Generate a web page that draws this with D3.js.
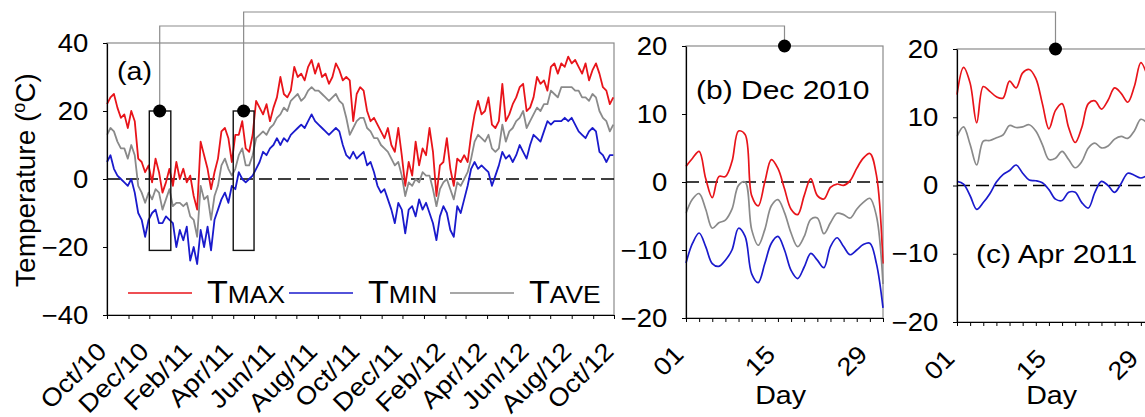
<!DOCTYPE html>
<html>
<head>
<meta charset="utf-8">
<script src="https://cdn.jsdelivr.net/npm/d3@7"></script>
<style>
body { margin: 0; background: #fff; }
svg { font-family: Arial, "Liberation Sans", sans-serif; }
</style>
</head>
<body>
<div id="chart"></div>
<script>
// daily temperature record, read every 5 days from Oct 1 2010
var startDay = new Date(2010, 9, 1);
var sampleDays = d3.range(0, 731, 5);

var tmax = [22, 24, 25, 21, 18, 19, 15, 20, 17, 6, 5, 2, 4, -1, 6, 2, -4, -1, 3, -2,
    5, 0, 3, -1, 1, -5, -9, 11, 7, 3, -3, 2, 6, 14, 15, 12, 5, 13, 13, 17,
    9, 8, 13, 23, 21, 19, 22, 17, 21, 24, 30, 25, 24, 26, 33, 30, 31, 29, 33, 35,
    31, 34, 30, 31, 28, 30, 34, 32, 29, 30, 29, 17, 25, 27, 26, 20, 17, 18, 16, 14,
    12, 15, 10, 8, 15, 7, -2, 5, 1, 11, 4, 9, 7, 15, 8, -5, 4, 5, 12, 3,
    -2, 6, 5, 7, 5, 13, 19, 23, 19, 20, 24, 16, 15, 17, 28, 17, 19, 22, 24, 27,
    28, 20, 21, 24, 30, 28, 29, 26, 33, 34, 31, 34, 33, 36, 34, 35, 33, 31, 34, 29,
    32, 34, 31, 27, 26, 22, 24];
var tmin = [5, 7, 3, 1, 0, -1, -2, 0, -4, -10, -12, -17, -12, -10, -9, -13, -13, -11, -12, -13,
    -20, -15, -18, -14, -24, -20, -25, -15, -20, -14, -21, -12, -9, -6, -4, -7, -2, -3, 2, 0,
    -1, 0, 1, 3, 5, 8, 7, 9, 10, 12, 10, 12, 11, 13, 14, 15, 16, 15, 17, 19,
    17, 16, 15, 14, 13, 14, 15, 14, 10, 7, 6, 8, 6, 7, 8, 4, 5, 2, -2, -4,
    -3, -6, -9, -13, -7, -9, -16, -9, -8, -11, -6, -9, -7, -10, -13, -18, -11, -8, -10, -15,
    -17, -8, -10, -6, -2, 3, 5, 3, 4, 3, 2, -2, 1, 4, 8, 6, 7, 5, 7, 10,
    8, 6, 10, 13, 12, 11, 14, 17, 16, 17, 17, 17, 18, 17, 18, 16, 14, 13, 12, 14,
    15, 14, 8, 7, 5, 7, 7];
var tave = [13, 15, 14, 11, 9, 9, 6, 10, 7, -2, -4, -7, -4, -6, -3, -4, -9, -6, -3, -8,
    -7, -7, -8, -7, -11, -12, -17, -2, -6, -5, -12, -5, -2, 4, 6, 3, 1, 3, 7, 9,
    4, 4, 7, 12, 13, 14, 13, 15, 16, 18, 19, 21, 20, 23, 24, 25, 23, 24, 26, 27,
    26, 26, 25, 24, 23, 24, 25, 23, 22, 18, 13, 15, 17, 18, 18, 15, 14, 12, 12, 10,
    9, 8, 6, 4, 5, 1, -5, -1, -2, 0, -1, 2, 1, 1, -3, -8, -3, -1, 0, -3,
    -6, -1, -2, 0, 2, 6, 11, 13, 12, 11, 13, 9, 8, 9, 16, 11, 14, 15, 17, 18,
    20, 15, 17, 19, 21, 20, 22, 22, 26, 25, 24, 27, 27, 27, 27, 26, 26, 24, 24, 23,
    25, 24, 20, 18, 17, 14, 16];

// (b) December 2010, daily
var decDays = d3.range(1, 32);
var decTmax = [2.3, 3.5, 4.5, 0.5, -2.3, 0.8, 0.8, 3, 7.5, 7, -2, -3.5, 0, 3.3, 2, -1,
    -4, -4.8, -2, 0.5, -2, -2.5, -0.8, -0.3, -0.5, 0.2, 2, 3.5, 4.2, 1, -12];
var decTave = [-4.6, -2.5, -1.7, -4, -6.8, -6, -5.6, -4, -0.5, 0, -7, -9.3, -7, -3.5, -2.6, -4.5,
    -7.5, -9.5, -8, -5.5, -5.3, -7.6, -6, -4.6, -4.8, -5.3, -4, -3, -2.4, -5, -15];
var decTmin = [-11.9, -9, -7.5, -9.5, -12, -12.4, -11.5, -10, -6.8, -8, -13.5, -14.8, -12, -9, -8, -10,
    -13, -14.2, -12.5, -10.5, -11.5, -12.6, -9.5, -8.2, -9.5, -10.7, -10, -9.2, -9, -12, -18.5];

// (c) April 2011, daily
var aprDays = d3.range(1, 31);
var aprTmax = [13.3, 17.3, 15, 9.2, 14.5, 13.8, 13, 12.8, 15.3, 14.3, 16.5, 17, 15.7, 12, 8.3,
    11, 12, 8.5, 6.3, 8.5, 12, 12.4, 11.2, 12.5, 14.3, 13.5, 12.2, 14.5, 18, 16];
var aprTave = [7.2, 8.6, 6, 3, 6.5, 6.6, 7, 7.4, 8.8, 8.5, 8.6, 8.9, 8, 6, 3.8,
    4, 5, 3.8, 2.6, 3.5, 5.5, 6.2, 5.5, 5.8, 6.8, 7.2, 6.9, 8, 9.7, 9.1];
var aprTmin = [0.6, 0.2, -1.5, -3.5, -2.5, -1.2, 0.5, 1.6, 2.2, 3, 1.8, 0.8, 0.7, 0.4, -0.6,
    -2, -2.2, -1, -1, -2.5, -3.3, -1, 0.6, 0, -1, 0.3, 1.8, 1.5, 1.1, 1.5];

var dayTicks = [1, 15, 29];
var legendNames = [["T", "MAX"], ["T", "MIN"], ["T", "AVE"]];
var colours = ["#e8141a", "#1a1acc", "#8a8a8a"];

var W = 1145, H = 417;
var WIDE = 1.1;   // the figure's lettering is a little wider than Arial
var svg = d3.select("#chart").append("svg")
    .attr("width", W)
    .attr("height", H);

var dateOf = function(d) { return d3.timeDay.offset(startDay, d); };

function label(x, y, size, txt, extra, wide) {
    return svg.append("text")
        .attr("transform", "translate(" + x + "," + y + ")" + (extra || "") +
            " scale(" + (wide || WIDE) + ",1)")
        .style("font-size", size + "px")
        .text(txt);
}

// ---------- scales ----------
var xa = d3.scaleTime()
    .domain([startDay, new Date(2012, 9, 1)])
    .range([107, 614]);
var ya = d3.scaleLinear().domain([-40, 40]).range([315, 43]);

var xb = d3.scaleLinear().domain([1, 31]).range([686, 883]);
var yb = d3.scaleLinear().domain([-20, 20]).range([318, 46]);

var xc = d3.scaleLinear().domain([1, 31]).range([957, 1154]);
var yc = d3.scaleLinear().domain([-20, 20]).range([322, 49]);

// ---------- connectors ----------
var conn = svg.append("g")
    .attr("fill", "none")
    .attr("stroke", "#8c8c8c")
    .attr("stroke-width", 1.2);
var dec16 = new Date(2010, 11, 16), apr16 = new Date(2011, 3, 16);
conn.append("path").attr("d", d3.line()([
    [xa(dec16), ya(20)], [xa(dec16), 26], [xb(16), 26], [xb(16), yb(20)]]));
conn.append("path").attr("d", d3.line()([
    [xa(apr16), ya(20)], [xa(apr16), 12], [xc(16), 12], [xc(16), yc(20)]]));

// ---------- panel helpers ----------
function framePanel(x, y) {
    var r = x.range(), t = y.range();
    svg.append("rect")
        .attr("x", r[0]).attr("y", t[1])
        .attr("width", r[1] - r[0]).attr("height", t[0] - t[1])
        .attr("fill", "none")
        .attr("stroke", "#8a8a8a")
        .attr("stroke-width", 1.2);
    svg.append("line")
        .attr("x1", r[0]).attr("x2", r[1])
        .attr("y1", y(0)).attr("y2", y(0))
        .attr("stroke", "#000")
        .attr("stroke-width", 1.3)
        .attr("stroke-dasharray", "13,6");
}

function styleAxis(g, size) {
    g.selectAll("text")
        .attr("fill", "#000")
        .attr("transform", "scale(" + WIDE + ",1)")
        .style("font-size", size + "px")
        .style("font-family", "Arial, 'Liberation Sans', sans-serif");
    g.selectAll("line").attr("stroke", "#000");
    g.select(".domain").attr("stroke", "#000").attr("stroke-width", 1.2);
}

function drawSeries(x, y, xs, list, curve, width) {
    list.forEach(function(vals, i) {
        var pts = xs.map(function(v, j) { return [x(v), y(vals[j])]; });
        svg.append("path")
            .attr("d", d3.line().curve(curve)(pts))
            .attr("fill", "none")
            .attr("stroke", colours[i])
            .attr("stroke-width", width)
            .attr("stroke-linejoin", "round");
    });
}

// ---------- panel (a) ----------
framePanel(xa, ya);
var dates = sampleDays.map(dateOf);
drawSeries(xa, ya, dates, [tmax, tmin, tave], d3.curveLinear, 1.8);

var months = d3.timeMonth.range(startDay, new Date(2012, 9, 2));
var axA = svg.append("g")
    .attr("transform", "translate(0," + ya.range()[0] + ")")
    .call(d3.axisBottom(xa).tickValues(months).tickSize(4).tickSizeOuter(0).tickFormat(""));
styleAxis(axA, 24);
months.filter(function(d, i) { return i % 2 === 0; }).forEach(function(d) {
    label(xa(d) + 1, ya.range()[0] + 38, 25, d3.timeFormat("%b/%y")(d), " rotate(-45)")
        .attr("text-anchor", "end");
});

var ayA = svg.append("g")
    .attr("transform", "translate(" + xa.range()[0] + ",0)")
    .call(d3.axisLeft(ya).tickValues([-40, -20, 0, 20, 40]).tickSize(4).tickPadding(13).tickSizeOuter(0));
styleAxis(ayA, 25);

var yt = svg.append("text")
    .attr("transform", "translate(35,180) rotate(-90)")
    .attr("text-anchor", "middle")
    .style("font-size", "28px");
yt.append("tspan").text("Temperature (");
yt.append("tspan").attr("dy", -10).style("font-size", "18px").text("o");
yt.append("tspan").attr("dy", 10).text("C)");

label(117, 80, 26, "(a)");

// boxes and markers for the zoomed months
var boxes = [
    [new Date(2010, 11, 1), new Date(2011, 0, 1), dec16],
    [new Date(2011, 3, 1), new Date(2011, 4, 1), apr16]
];
boxes.forEach(function(b) {
    svg.append("rect")
        .attr("x", xa(b[0])).attr("y", ya(20))
        .attr("width", xa(b[1]) - xa(b[0]))
        .attr("height", ya(-21) - ya(20))
        .attr("fill", "none")
        .attr("stroke", "#111")
        .attr("stroke-width", 1.4);
    svg.append("circle")
        .attr("cx", xa(b[2])).attr("cy", ya(20)).attr("r", 6.5)
        .attr("fill", "#000");
});

// legend
legendNames.forEach(function(n, i) {
    var lx = 128 + i * 161;
    svg.append("line")
        .attr("x1", lx).attr("x2", lx + 64)
        .attr("y1", 293).attr("y2", 293)
        .attr("stroke", colours[i]).attr("stroke-width", 1.5);
    var t = label(lx + 79, 303, 31, null);
    t.append("tspan").text(n[0]);
    t.append("tspan").style("font-size", "24px").text(n[1]);
});

// ---------- panels (b) and (c) ----------
function dayPanel(x, y, days, list, title, titleX, titleY) {
    framePanel(x, y);
    drawSeries(x, y, days, list, d3.curveCatmullRom, 1.7);
    var ax = svg.append("g")
        .attr("transform", "translate(0," + y.range()[0] + ")")
        .call(d3.axisBottom(x).tickValues(d3.range(1, 32, 2)).tickSize(4).tickSizeOuter(0).tickFormat(""));
    styleAxis(ax, 24);
    dayTicks.forEach(function(d) {
        label(x(d) - 1, y.range()[0] + 38, 25, d3.format("02d")(d), " rotate(-45)")
            .attr("text-anchor", "end");
    });
    var ay = svg.append("g")
        .attr("transform", "translate(" + x.range()[0] + ",0)")
        .call(d3.axisLeft(y).tickValues([-20, -10, 0, 10, 20]).tickSize(4).tickPadding(13).tickSizeOuter(0));
    styleAxis(ay, 25);
    label(x(15.4), 404, 26, "Day").attr("text-anchor", "middle");
    label(titleX, titleY, 25, title, "", 1.2);
    svg.append("circle")
        .attr("cx", x(16)).attr("cy", y(20)).attr("r", 6.5)
        .attr("fill", "#000");
}

dayPanel(xb, yb, decDays, [decTmax, decTmin, decTave], "(b) Dec 2010", 696, 99);
dayPanel(xc, yc, aprDays, [aprTmax, aprTmin, aprTave], "(c) Apr 2011", 976, 263);
</script>
</body>
</html>
